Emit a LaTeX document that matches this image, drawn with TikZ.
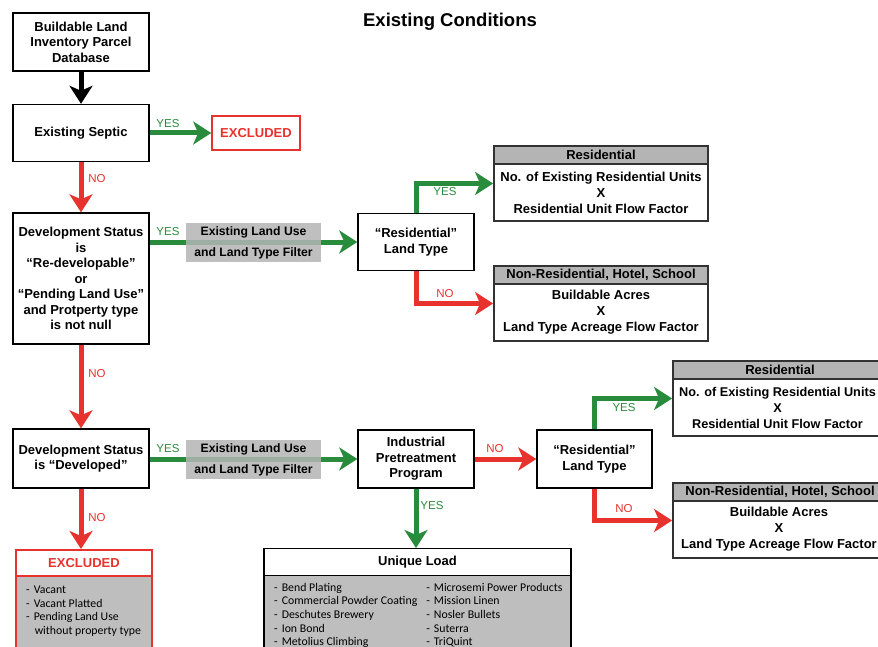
\documentclass[tikz,border=0pt]{standalone}
\usepackage{fontspec}
\setmainfont{Liberation Sans}
\newfontfamily\listfont{Carlito}
\usetikzlibrary{arrows.meta}
\definecolor{yesgreen}{RGB}{40,140,60}
\definecolor{nored}{RGB}{232,50,46}
\definecolor{hdrgray}{RGB}{180,180,180}
\definecolor{bodygray}{RGB}{190,190,190}
\definecolor{edgegray}{RGB}{50,50,50}

\begin{document}
\begin{tikzpicture}[x=1pt, y=-1pt,
    box/.style={draw, line width=1.4pt, fill=white, align=center, inner sep=2pt,
        font=\fontsize{13}{15.5}\selectfont\bfseries},
    outbox/.style={draw=edgegray, line width=1.8pt, fill=white, minimum width=214pt},
    hdr/.style={draw=edgegray, line width=1.8pt, fill=hdrgray, minimum width=214pt,
        minimum height=18pt, inner sep=0pt, font=\fontsize{13}{15}\selectfont\bfseries},
    outtext/.style={align=center, inner sep=0pt, font=\fontsize{13}{16}\selectfont\bfseries},
    filter/.style={fill=hdrgray, fill opacity=0.85, text opacity=1, minimum width=135pt,
        minimum height=39pt, inner sep=0pt, align=center,
        font=\fontsize{12.2}{21}\selectfont\bfseries},
    lbl/.style={inner sep=0pt, font=\fontsize{11.5}{12}\selectfont},
    flow/.style={line width=5pt, -{Stealth[length=18pt, width=23pt, inset=5pt]}},
    listtext/.style={inner sep=0pt, align=left, font=\listfont\fontsize{11.8}{13.6}\selectfont}
]
    \clip (0,0) rectangle (878,647);
    \fill[white] (0,0) rectangle (878,647);

    % Title
    \node[font=\fontsize{18.5}{20}\selectfont\bfseries] (title) at (450,22) {Existing Conditions};

    % Left column of decisions
    \node[box, minimum width=136pt, minimum height=58pt] (db) at (81,42) {Buildable Land\\Inventory Parcel\\Database};
    \node[box, minimum width=136pt, minimum height=57pt] (septic) at (81,133) {Existing Septic};
    \node[box, draw=nored, text=nored, line width=1.6pt, minimum width=88pt, minimum height=34pt,
        font=\fontsize{13}{15}\selectfont\bfseries] (excl1) at (256,133) {EXCLUDED};
    \node[box, minimum width=136pt, minimum height=131pt] (redev) at (81,278.5)
        {Development Status\\is\\“Re-developable”\\or\\“Pending Land Use”\\and Protperty type\\is not null};
    \node[box, minimum width=136pt, minimum height=59pt] (devd) at (81,458.5) {Development Status\\is “Developed”};

    % Middle boxes
    \node[box, minimum width=116pt, minimum height=57pt] (restype1) at (416,242) {“Residential”\\Land Type};
    \node[box, minimum width=116pt, minimum height=58pt] (ipp) at (416,459) {Industrial\\Pretreatment\\Program};
    \node[box, minimum width=115pt, minimum height=58pt] (restype2) at (594.5,459) {“Residential”\\Land Type};

    % Flow factor boxes, upper
    \node[outbox, minimum height=75pt] (resout1) at (601,183.5) {};
    \node[hdr, anchor=north] (reshdr1) at (resout1.north) {Residential};
    \node[outtext] (resbody1) at (601,192.5) {No. of Existing Residential Units\\X\\Residential Unit Flow Factor};
    \node[outbox, minimum height=75pt] (nonout1) at (601,303.5) {};
    \node[hdr, anchor=north] (nonhdr1) at (nonout1.north) {Non-Residential, Hotel, School};
    \node[outtext] (nonbody1) at (601,312.5) {Buildable Acres\\X\\Land Type Acreage Flow Factor};

    % Flow factor boxes, lower
    \node[outbox, minimum height=75pt] (resout2) at (780,398.5) {};
    \node[hdr, anchor=north] (reshdr2) at (resout2.north) {Residential};
    \node[outtext, font=\fontsize{12.7}{16}\selectfont\bfseries] (resbody2) at (777.5,407.5)
        {No. of Existing Residential Units\\X\\Residential Unit Flow Factor};
    \node[outbox, minimum height=75pt] (nonout2) at (780,520.5) {};
    \node[hdr, anchor=north] (nonhdr2) at (nonout2.north) {Non-Residential, Hotel, School};
    \node[outtext] (nonbody2) at (779,529.5) {Buildable Acres\\X\\Land Type Acreage Flow Factor};

    % Excluded list
    \node[draw=nored, line width=1.6pt, fill=bodygray, minimum width=136pt, minimum height=120pt,
        anchor=north] (excl2) at (84,549) {};
    \node[draw=nored, line width=1.6pt, fill=white, minimum width=136pt, minimum height=26pt,
        inner sep=0pt, anchor=north, text=nored, font=\fontsize{13}{15}\selectfont\bfseries]
        (exclhdr) at (excl2.north) {EXCLUDED};
    \node[listtext, anchor=north west] (excllist) at (26,584)
        {\begin{tabular}{@{}l@{\hspace{4pt}}l@{}}
        - & Vacant\\
        - & Vacant Platted\\
        - & Pending Land Use\\
          & \hspace{1pt}without property type
        \end{tabular}};

    % Unique load list
    \node[draw, line width=1.4pt, fill=bodygray, minimum width=307pt, minimum height=120pt,
        anchor=north] (unique) at (417.5,548) {};
    \node[draw, line width=1.4pt, fill=white, minimum width=307pt, minimum height=27pt,
        inner sep=0pt, anchor=north, font=\fontsize{13}{15}\selectfont\bfseries]
        (uniquehdr) at (unique.north) {Unique Load};
    \node[listtext, anchor=north west] (uniquelist) at (274,581.5)
        {\begin{tabular}{@{}l@{\hspace{4pt}}l@{\hspace{9pt}}l@{\hspace{4pt}}l@{}}
        - & Bend Plating & - & Microsemi Power Products\\
        - & Commercial Powder Coating & - & Mission Linen\\
        - & Deschutes Brewery & - & Nosler Bullets\\
        - & Ion Bond & - & Suterra\\
        - & Metolius Climbing & - & TriQuint
        \end{tabular}};

    % Connectors
    \draw[flow, black] (db) -- (septic);
    \draw[flow, yesgreen] (septic) -- (excl1);
    \draw[flow, nored] (septic) -- (redev);
    \draw[flow, yesgreen] (redev.east |- restype1) -- (restype1);
    \draw[flow, yesgreen] (restype1.north) |- (resout1.west);
    \draw[flow, nored] (restype1.south) |- (nonout1.west);
    \draw[flow, nored] (redev) -- (devd);
    \draw[flow, yesgreen] (devd.east |- ipp) -- (ipp);
    \draw[flow, nored] (ipp) -- (restype2);
    \draw[flow, yesgreen] (restype2.north) |- (resout2.west);
    \draw[flow, nored] (restype2.south) |- (nonout2.west);
    \draw[flow, nored] (devd.south) -- (devd.south |- excl2.north);
    \draw[flow, yesgreen] (ipp.south) -- (ipp.south |- unique.north);

    % Filters on the yes lines
    \node[filter] (filter1) at (253.5,242.5) {Existing Land Use\\and Land Type Filter};
    \node[filter] (filter2) at (253.5,459.5) {Existing Land Use\\and Land Type Filter};

    % Yes / no labels
    \node[lbl, text=yesgreen] (yes1) at (168,124) {YES};
    \node[lbl, text=nored] (no1) at (97,179) {NO};
    \node[lbl, text=yesgreen] (yes2) at (168,232) {YES};
    \node[lbl, text=yesgreen] (yes3) at (445,192) {YES};
    \node[lbl, text=nored] (no2) at (445,294) {NO};
    \node[lbl, text=nored] (no3) at (97,374) {NO};
    \node[lbl, text=yesgreen] (yes4) at (168,449) {YES};
    \node[lbl, text=nored] (no4) at (495,449) {NO};
    \node[lbl, text=yesgreen] (yes5) at (624,408) {YES};
    \node[lbl, text=nored] (no5) at (624,509) {NO};
    \node[lbl, text=nored] (no6) at (97,518) {NO};
    \node[lbl, text=yesgreen] (yes6) at (432,506) {YES};
\end{tikzpicture}
\end{document}
